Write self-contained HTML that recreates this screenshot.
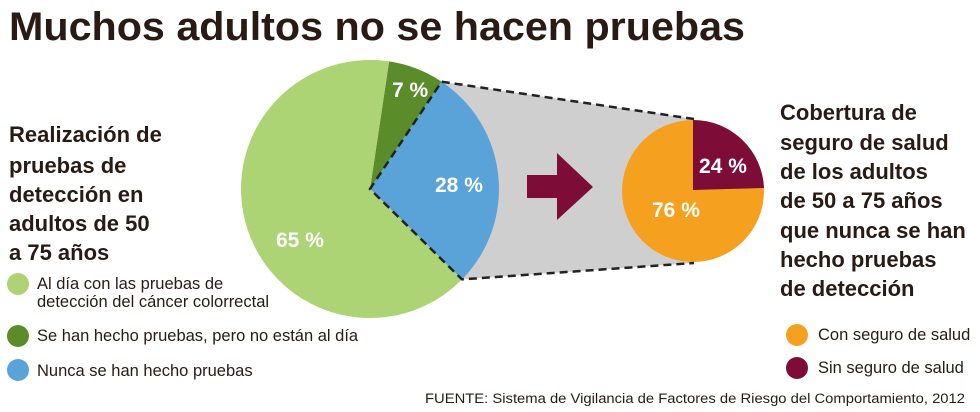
<!DOCTYPE html>
<html><head><meta charset="utf-8"><style>
html,body{margin:0;padding:0;background:#fff;}
svg{display:block;}
text{font-family:"Liberation Sans",sans-serif;}
.h{font-weight:bold;font-size:22px;fill:#2a1a14;}
.l{font-size:16.5px;fill:#2a1a14;}
.p{font-weight:bold;font-size:21px;fill:#fff;}
</style></head><body>
<svg width="980" height="412" viewBox="0 0 980 412" xmlns="http://www.w3.org/2000/svg">
<text x="9" y="40" font-size="40" font-weight="bold" fill="#2a1a14" textLength="736" lengthAdjust="spacingAndGlyphs">Muchos adultos no se hacen pruebas</text>
<polygon points="441.6,81.7 694,119 694,263 462,279.4" fill="#d0cfcf"/>
<path d="M370,189 L389.1,61.4 A129,129 0 0,1 441.6,81.7 Z" fill="#5b8c2a"/>
<path d="M370,189 L441.6,81.7 A129,129 0 0,1 462,279.4 Z" fill="#5aa3d8"/>
<path d="M370,189 L462,279.4 A129,129 0 1,1 389.1,61.4 Z" fill="#acd374"/>
<circle cx="693" cy="191" r="71" fill="#f5a11f"/>
<path d="M693,190 L693,120 A71,71 0 0,1 764,188 Z" fill="#7d0c36"/>
<polyline points="694,119 441.6,81.7 370,189 462,279.4 694,263" fill="none" stroke="#222" stroke-width="2.5" stroke-dasharray="8,5"/>
<polygon points="527,175 557,175 557,153 593,187 557,220 557,198 527,198" fill="#7d0c36"/>
<text class="p" x="392" y="97">7 %</text>
<text class="p" x="435" y="192">28 %</text>
<text class="p" x="276" y="247">65 %</text>
<text class="p" x="699" y="173">24 %</text>
<text class="p" x="652" y="217">76 %</text>
<text class="h" x="9" y="142">Realización de</text>
<text class="h" x="9" y="173">pruebas de</text>
<text class="h" x="9" y="202">detección en</text>
<text class="h" x="9" y="231">adultos de 50</text>
<text class="h" x="9" y="260">a 75 años</text>
<circle cx="18" cy="284" r="11" fill="#acd374"/>
<circle cx="18" cy="336" r="11" fill="#5b8c2a"/>
<circle cx="18" cy="370" r="11" fill="#5aa3d8"/>
<text class="l" x="37" y="289">Al día con las pruebas de</text>
<text class="l" x="37" y="307">detección del cáncer colorrectal</text>
<text class="l" x="37" y="341">Se han hecho pruebas, pero no están al día</text>
<text class="l" x="37" y="376">Nunca se han hecho pruebas</text>
<text class="h" x="780" y="120">Cobertura de</text>
<text class="h" x="780" y="150">seguro de salud</text>
<text class="h" x="780" y="179">de los adultos</text>
<text class="h" x="780" y="208">de 50 a 75 años</text>
<text class="h" x="780" y="238">que nunca se han</text>
<text class="h" x="780" y="267">hecho pruebas</text>
<text class="h" x="780" y="296">de detección</text>
<circle cx="797" cy="335" r="11" fill="#f5a11f"/>
<circle cx="797" cy="368" r="11" fill="#7d0c36"/>
<text class="l" x="818" y="340">Con seguro de salud</text>
<text class="l" x="818" y="373">Sin seguro de salud</text>
<text x="425" y="403" font-size="13.5" fill="#2a1a14" textLength="540" lengthAdjust="spacingAndGlyphs">FUENTE: Sistema de Vigilancia de Factores de Riesgo del Comportamiento, 2012</text>
</svg>
</body></html>
